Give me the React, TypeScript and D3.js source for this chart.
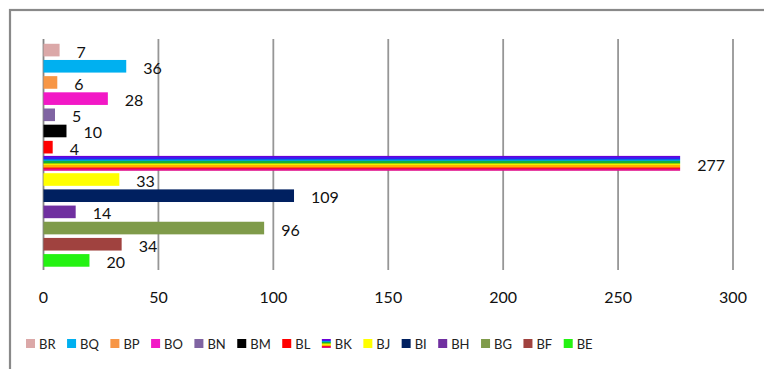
import React, { useEffect, useRef } from "react";
import * as d3 from "d3";

const categories = ["BR", "BQ", "BP", "BO", "BN", "BM", "BL", "BK", "BJ", "BI", "BH", "BG", "BF", "BE"];
const values = [7, 36, 6, 28, 5, 10, 4, 277, 33, 109, 14, 96, 34, 20];
const colors = ["#dba8a8", "#00b0f0", "#f79646", "#f218c6", "#8064a2", "#000000", "#ff0000", "RAINBOW", "#ffff00", "#002060", "#7030a0", "#7f9b4a", "#a0423f", "#24f212"];
const xTicks = [0, 50, 100, 150, 200, 250, 300];
const rainbow = ["#6a00d8", "#3a1cf0", "#0070e0", "#00a0d0", "#10b040", "#90d000", "#f0f000", "#ffb000", "#ff6010", "#f01030", "#e0108a"];

export default function App() {
  const ref = useRef<SVGSVGElement>(null);
  useEffect(() => {
    const svg = d3.select(ref.current);
    svg.selectAll("*").remove();
    const font = "Lato, 'Open Sans', sans-serif";

    const defs = svg.append("defs");
    const grad = defs.append("linearGradient").attr("id", "rainbow").attr("x1", 0).attr("x2", 0).attr("y1", 0).attr("y2", 1);
    rainbow.forEach((c, i) => {
      grad.append("stop").attr("offset", i / rainbow.length).attr("stop-color", c);
      grad.append("stop").attr("offset", (i + 1) / rainbow.length).attr("stop-color", c);
    });

    const x = d3.scaleLinear().domain([0, 300]).range([43.5, 733]);
    const y = d3.scaleBand<string>().domain(categories).range([42, 268.5]).paddingInner(0.22).paddingOuter(0.11);

    svg.append("rect").attr("x", 10).attr("y", 10).attr("width", 800).attr("height", 400)
      .attr("fill", "#fff").attr("stroke", "#898989").attr("stroke-width", 2.2);

    const g = svg.append("g");
    xTicks.forEach((t) => {
      g.append("line").attr("x1", x(t)).attr("x2", x(t)).attr("y1", 39).attr("y2", 270)
        .attr("stroke", t === 0 ? "#868686" : "#969696").attr("stroke-width", 1.8);
      g.append("text").attr("x", x(t)).attr("y", 296.5).attr("text-anchor", "middle").attr("dominant-baseline", "central")
        .attr("font-family", font).attr("font-size", 16).attr("fill", "#111").text(t);
    });

    categories.forEach((c, i) => {
      const isRb = colors[i] === "RAINBOW";
      const bw = y.bandwidth();
      const h = isRb ? bw * 1.18 : bw;
      const cy = (y(c) as number) + bw / 2;
      g.append("rect").attr("x", x(0)).attr("y", cy - h / 2).attr("width", x(values[i]) - x(0)).attr("height", h)
        .attr("fill", isRb ? "url(#rainbow)" : colors[i]);
      g.append("text").attr("x", x(values[i]) + 17).attr("y", cy + 1).attr("dominant-baseline", "central")
        .attr("font-family", font).attr("font-size", 16).attr("fill", "#111").text(values[i]);
    });

    // legend
    const lg = svg.append("g");
    let lx = 26;
    const ly = 343.5;
    categories.forEach((c, i) => {
      const isRb = colors[i] === "RAINBOW";
      lg.append("rect").attr("x", lx).attr("y", ly - 4.5).attr("width", 9).attr("height", 9)
        .attr("fill", isRb ? "url(#rainbow)" : colors[i]);
      const t = lg.append("text").attr("x", lx + 13).attr("y", ly).attr("dominant-baseline", "central")
        .attr("font-family", font).attr("font-size", 13).attr("fill", "#222").text(c);
      const w = (t.node() as SVGTextElement).getComputedTextLength();
      lx = lx + 13 + w + 11.5;
    });
  }, []);
  return (
    <svg ref={ref} width={764} height={369} style={{ position: "absolute", left: 0, top: 0, display: "block" }} />
  );
}
